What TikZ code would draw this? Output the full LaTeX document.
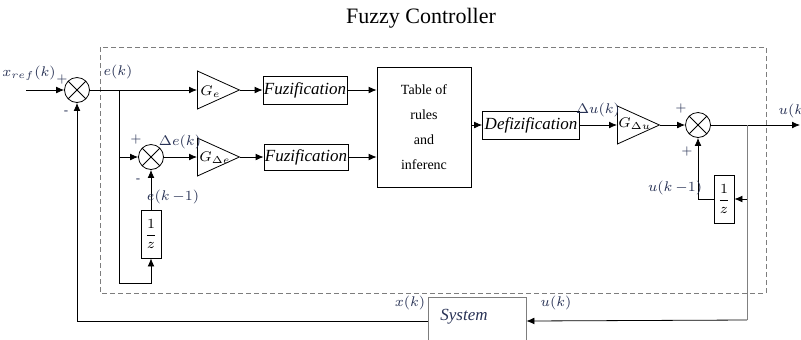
\documentclass[tikz,border=0pt]{standalone}
\usepackage{fontspec}
\setmainfont{Liberation Serif}
\usepackage{amsmath}
\usepackage{xcolor}
\usepackage{tikz}
\usetikzlibrary{positioning,arrows.meta,shapes.geometric}

\definecolor{sigblue}{RGB}{40,50,85}
\definecolor{framegray}{RGB}{125,125,125}

\begin{document}
\begin{tikzpicture}[x=0.5pt, y=-0.5pt, >={Latex[length=4pt,width=3.4pt]},
		sumnode/.style={circle, draw, minimum size=12.5pt, inner sep=0pt,
			path picture={\draw (path picture bounding box.north west) -- (path picture bounding box.south east)
				(path picture bounding box.north east) -- (path picture bounding box.south west);}},
		gain/.style={isosceles triangle, isosceles triangle stretches, draw, minimum width=19pt,
			minimum height=21pt, inner sep=0pt, anchor=west},
		blockbox/.style={draw, rectangle, inner sep=0pt, font=\fontsize{8.5}{10}\selectfont\itshape},
		delaybox/.style={draw, rectangle, minimum width=10pt, minimum height=24pt, inner sep=0pt,
			font=\fontsize{7}{8}\selectfont},
		sig/.style={text=sigblue, inner sep=0pt, font=\fontsize{7.5}{9}\selectfont},
		sign/.style={text=sigblue, inner sep=0pt, font=\fontsize{6.5}{8}\selectfont},
		gname/.style={inner sep=0pt, anchor=west, font=\fontsize{7}{8}\selectfont}]
	\useasboundingbox (0,0) rectangle (801,339);

	\node[font=\fontsize{11}{13}\selectfont] (title) at (421,18) {Fuzzy Controller};
	\draw[framegray, dash pattern=on 2.5pt off 1.5pt] (100,47) rectangle (766,293);

	% error branch
	\coordinate (xin) at (26,90);
	\node[sumnode] (s1) at (77,90) {};
	\coordinate (eb) at (119,90);
	\coordinate (ebot) at (119,283);
	\node[gain] (ge) at (197,90) {};
	\node[gname] at (200,92) {$G_{\scriptscriptstyle e}$};
	\node[blockbox, minimum width=42pt, minimum height=14pt] (fz1) at (305,90) {Fuzification};

	% change of error branch
	\node[sumnode] (s2) at (151,157) {};
	\node[delaybox] (zd1) at (151,234) {$\dfrac{1}{z}$};
	\node[gain] (gde) at (197,157) {};
	\node[gname] at (199,158) {$G_{\scriptscriptstyle\Delta e}$};
	\node[blockbox, minimum width=42pt, minimum height=13pt] (fz2) at (306,157) {Fuzification};

	% rule base and output side
	\node[draw, minimum width=47pt, minimum height=60pt, align=center,
		font=\fontsize{7}{12.5}\selectfont] (tab) at (424,127) {Table of\\rules\\and\\inferenc};
	\node[blockbox, minimum width=48.5pt, minimum height=14pt] (dz) at (531,125) {Defizification};
	\node[gain] (gdu) at (617,125) {};
	\node[gname] at (618,124) {$G_{\scriptscriptstyle\Delta u}$};
	\node[sumnode] (s3) at (698,125) {};
	\node[delaybox] (zd2) at (724,199) {$\dfrac{1}{z}$};
	\coordinate (ub) at (747,125);
	\coordinate (yout) at (800,125);
	\coordinate (ufb) at (747,320);

	% plant
	\node[draw=framegray, minimum width=49pt, minimum height=24pt] (sys) at (477,321) {};
	\node[inner sep=0pt, text=sigblue, font=\fontsize{8.5}{10}\selectfont\itshape] (sysl) at (464,317) {System};

	% connections
	\draw[->] (xin) -- (s1);
	\draw (s1) -- (eb);
	\draw[->] (eb) -- (ge.west);
	\draw[->] (ge.apex) -- (fz1.west);
	\draw[->] (eb) -- (ebot) -| (zd1.south);
	\draw[->] (eb |- s2) -- (s2);
	\draw[->] (zd1) -- (s2);
	\draw[->] (s2) -- (gde.west);
	\draw[->] (gde.apex) -- (fz2.west);
	\draw[->] (fz1.east) -- (fz1.east -| tab.west);
	\draw[->] (fz2.east) -- (fz2.east -| tab.west);
	\draw[->] (tab.east |- dz.west) -- (dz.west);
	\draw[->] (dz) -- (gdu.west);
	\draw[->] (gdu.apex) -- (s3);
	\draw[->] (s3) -- (yout);
	\draw[->] (zd2.west) -| (s3.south);
	\draw[gray] (ub) -- (ufb);
	\draw[->] (ub |- zd2) -- (zd2.east);
	\draw[->] (ufb) -- (sys.east);
	\draw[->] (sys.west) -| (s1.south);

	% signal names and signs
	\node[sig, font=\fontsize{7}{8}\selectfont] (lxref) at (29,73) {$x_{\scriptscriptstyle ref}(k)$};
	\node[sign] at (62,79) {$+$};
	\node[sign] at (66,113) {-};
	\node[sig] (le) at (118,72) {$e(k)$};
	\node[sign] at (136,139) {$+$};
	\node[sign] at (138,181) {-};
	\node[sig] (lde) at (180,142) {$\Delta e(k)$};
	\node[sig] (lek1) at (173,197) {$e(k\,{-}1)$};
	\node[sig] (ldu) at (598,110) {$\Delta u(k)$};
	\node[sign] at (681,108) {$+$};
	\node[sign] at (687,151) {$+$};
	\node[sig] (luk1) at (675,188) {$u(k\,{-}1)$};
	\node[sig] (lu) at (794,111) {$u(k)$};
	\node[sig] (lx) at (410,303) {$x(k)$};
	\node[sig] (lub) at (556,303) {$u(k)$};
\end{tikzpicture}
\end{document}
